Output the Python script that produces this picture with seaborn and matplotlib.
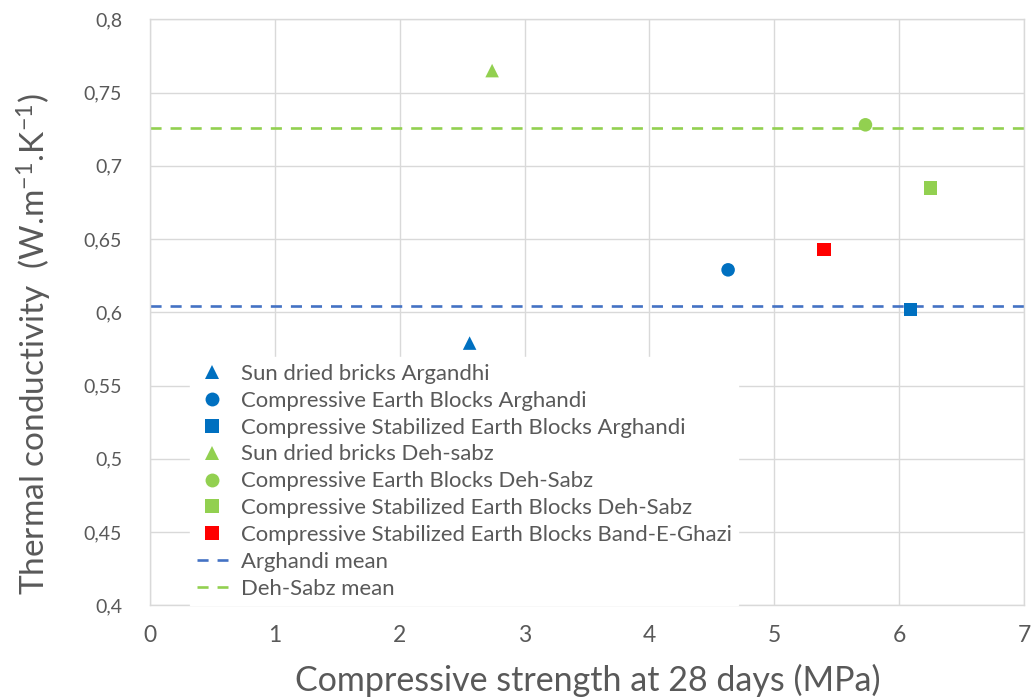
import numpy as np
import pandas as pd
import seaborn as sns
import matplotlib.pyplot as plt
from matplotlib.ticker import FuncFormatter, MultipleLocator
from matplotlib.lines import Line2D

# points
labels = ["Sun dried bricks Argandhi",
          "Compressive Earth Blocks Arghandi",
          "Compressive Stabilized Earth Blocks Arghandi",
          "Sun dried bricks Deh-sabz",
          "Compressive Earth Blocks Deh-Sabz",
          "Compressive Stabilized Earth Blocks Deh-Sabz",
          "Compressive Stabilized Earth Blocks Band-E-Ghazi"]
strength = [2.56, 4.63, 6.09, 2.74, 5.73, 6.25, 5.40]
conductivity = [0.579, 0.629, 0.602, 0.765, 0.728, 0.685, 0.643]
colors = ["#0070C0", "#0070C0", "#0070C0", "#92D050", "#92D050", "#92D050", "#FF0000"]
markers = ["^", "o", "s", "^", "o", "s", "s"]

mean_names = ["Arghandi mean", "Deh-Sabz mean"]
mean_values = [0.604, 0.726]
mean_colors = ["#4472C4", "#92D050"]

df = pd.DataFrame({"label": labels, "x": strength, "y": conductivity})

sns.set_style("white")
plt.rcParams['font.family'] = ['Lato', 'DejaVu Sans']
plt.rcParams['mathtext.default'] = 'regular'
txt = "#595959"

fig = plt.figure(figsize=(10.35, 6.98), dpi=100)
ax = fig.add_axes([0.1449, 0.1328, 0.8445, 0.8395])

sns.scatterplot(data=df, x="x", y="y", hue="label", style="label",
                palette=dict(zip(labels, colors)), markers=dict(zip(labels, markers)),
                s=95, linewidth=0, ax=ax, zorder=3, legend=False)

for v, c in zip(mean_values, mean_colors):
    ax.axhline(v, color=c, lw=1.9, dashes=(4.2, 3.4), zorder=2)

ax.set_xlim(0, 7)
ax.set_ylim(0.4, 0.8)
ax.xaxis.set_major_locator(MultipleLocator(1))
ax.yaxis.set_major_locator(MultipleLocator(0.05))
ax.yaxis.set_major_formatter(FuncFormatter(lambda v, p: ("%g" % round(v, 2)).replace(".", ",")))
ax.grid(True, color="#D9D9D9", lw=1)
for s in ax.spines.values():
    s.set_color("#D9D9D9")
    s.set_linewidth(1)
ax.tick_params(axis="y", labelsize=14, colors=txt, pad=20, length=0)
ax.tick_params(axis="x", labelsize=16.5, colors=txt, pad=14, length=0)

ax.set_xlabel("Compressive strength at 28 days (MPa)", fontsize=24.5, color=txt)
ax.set_ylabel("Thermal conductivity  (W.m$^{-1}$.K$^{-1}$)", fontsize=24, color=txt)
ax.xaxis.set_label_coords(0.5006, -0.1275)
ax.yaxis.set_label_coords(-0.1316, 0.446)
ax.xaxis.label.set_va("center")
ax.yaxis.label.set_va("center")

handles = []
for lab, c, m in zip(labels, colors, markers):
    handles.append(Line2D([], [], ls="none", marker=m, color=c, markersize=10, markeredgewidth=0))
for lab, c in zip(mean_names, mean_colors):
    handles.append(Line2D([], [], color=c, lw=1.9, dashes=(4.2, 3.4)))
leg = ax.legend(handles, labels + mean_names, loc="lower left", bbox_to_anchor=(0.046, 0.0),
                frameon=True, fontsize=15.9, labelspacing=0.31, handlelength=1.4,
                handletextpad=0.6, borderpad=0.3, borderaxespad=0, facecolor="white",
                edgecolor="white", framealpha=1, fancybox=False)
for t in leg.get_texts():
    t.set_color(txt)

fig.savefig("out.png", dpi=100)
